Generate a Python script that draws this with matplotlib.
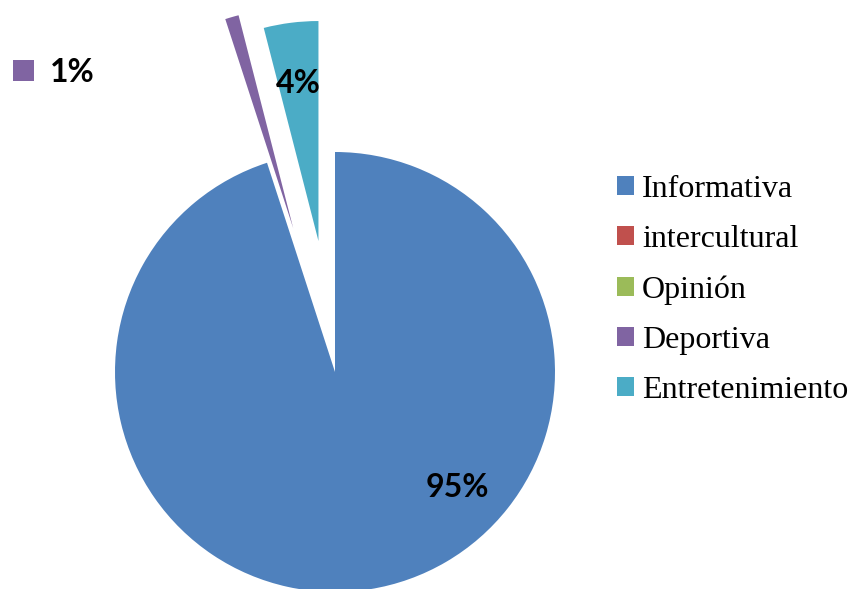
import numpy as np
import matplotlib
matplotlib.use("Agg")
import matplotlib.pyplot as plt
from matplotlib.patches import Rectangle

# Data
categories = ["Informativa", "intercultural", "Opinión", "Deportiva", "Entretenimiento"]
values = [95, 0, 0, 1, 4]
colors = ["#4F81BD", "#C0504D", "#9BBB59", "#8064A2", "#4BACC6"]
explode = [0.0, 0.0, 0.0, 0.68, 0.6]

W, H, DPI = 853, 589, 100
fig = plt.figure(figsize=(W / DPI, H / DPI), dpi=DPI)
fig.patch.set_facecolor("white")

# axes covering the figure; one data unit = pie radius in pixels
R_PX = 220.0
CX, CY = 335.0, 372.0  # pie centre in pixels from top-left
ax = fig.add_axes([0, 0, 1, 1])

wedges, _ = ax.pie(values, colors=colors, explode=explode, startangle=90,
                   counterclock=False, radius=1.0, center=(0, 0),
                   wedgeprops=dict(linewidth=0))

ax.set_xlim(-CX / R_PX, (W - CX) / R_PX)
ax.set_ylim(-(H - CY) / R_PX, CY / R_PX)
ax.set_aspect("auto")
ax.axis("off")

label_font = dict(family=["Lato", "DejaVu Sans"], fontweight="bold",
                  fontsize=23, color="black")
total = float(sum(values))

# value label of the big slice
ax.text(0.555, -0.525, "{:.0f}%".format(values[0] / total * 100),
        ha="center", va="center", **label_font)

# value label of the entertainment slice, inside the slice
w = wedges[4]
ang = np.deg2rad((w.theta1 + w.theta2) / 2)
cx, cy = w.center
ax.text(cx + 0.72 * np.cos(ang), cy + 0.72 * np.sin(ang),
        "{:.0f}%".format(values[4] / total * 100),
        ha="center", va="center", **label_font)

# sports label with its legend key, outside the pie
fig.add_artist(Rectangle((13 / W, 1 - 81 / H), 21 / W, 21 / H,
                         transform=fig.transFigure, facecolor=colors[3],
                         edgecolor="none"))
fig.text(50 / W, 1 - 73 / H,
         "{:.0f}%".format(values[3] / total * 100),
         ha="left", va="center", **label_font)

# legend
leg = fig.legend(wedges, categories, loc="center left",
                 bbox_to_anchor=(601 / W, 1 - 290 / H),
                 frameon=False, handlelength=0.53, handleheight=0.53,
                 handletextpad=0.25, labelspacing=0.66, borderpad=0,
                 prop=dict(family="Liberation Serif", size=23))

fig.savefig("out.png", dpi=DPI, facecolor="white")
